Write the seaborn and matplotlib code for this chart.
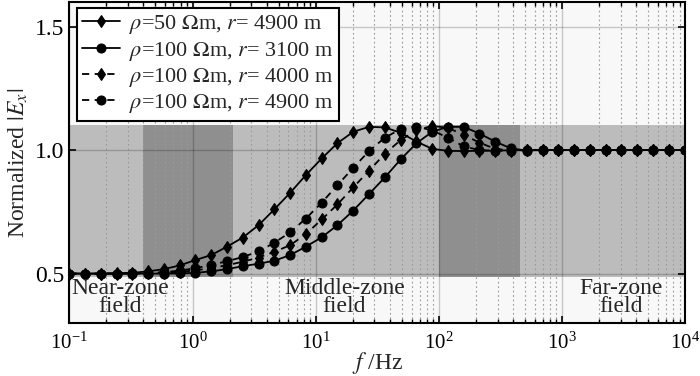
import numpy as np
import pandas as pd
import matplotlib
matplotlib.use("Agg")
import matplotlib.pyplot as plt
import seaborn as sns
from matplotlib.ticker import LogLocator, FixedLocator

# ---------------------------------------------
# Datos (40 frecuencias, 0.1 Hz – 10 kHz)
# ---------------------------------------------
freq = [0.1, 0.1343, 0.1803, 0.2422, 0.3252, 0.4367, 0.5864, 0.7875, 1.0575,
        1.4201, 1.9070, 2.5609, 3.4390, 4.6181, 6.2017, 8.3281, 11.184, 15.018,
        20.168, 27.083, 36.370, 48.840, 65.587, 88.076, 118.27, 158.83, 213.29,
        286.42, 384.62, 516.50, 693.60, 931.42, 1250.8, 1679.6, 2255.5, 3028.9,
        4067.5, 5462.2, 7335.1, 10000.0]

rho50_r4900 = [0.500, 0.500, 0.500, 0.501, 0.503, 0.509, 0.518, 0.533, 0.555,
               0.575, 0.609, 0.646, 0.696, 0.760, 0.827, 0.899, 0.966, 1.028,
               1.074, 1.094, 1.092, 1.070, 1.035, 1.005, 0.997, 0.996, 0.997,
               0.998, 0.999, 1.000, 1.000, 1.000, 1.000, 1.000, 1.000, 1.000,
               1.000, 1.000, 1.000, 1.000]

rho100_r3100 = [0.500, 0.500, 0.500, 0.500, 0.500, 0.500, 0.500, 0.501, 0.503,
                0.509, 0.518, 0.530, 0.540, 0.552, 0.575, 0.609, 0.647, 0.696,
                0.755, 0.822, 0.889, 0.962, 1.027, 1.074, 1.094, 1.094, 1.067,
                1.034, 1.007, 0.998, 1.000, 1.000, 1.000, 1.000, 1.000, 1.000,
                1.000, 1.000, 1.000, 1.000]

rho100_r4000 = [0.500, 0.500, 0.500, 0.500, 0.500, 0.501, 0.503, 0.507, 0.513,
                0.522, 0.534, 0.548, 0.565, 0.588, 0.615, 0.660, 0.719, 0.780,
                0.849, 0.916, 0.985, 1.040, 1.080, 1.098, 1.090, 1.062, 1.030,
                1.005, 0.998, 1.000, 1.000, 1.000, 1.000, 1.000, 1.000, 1.000,
                1.000, 1.000, 1.000, 1.000]

rho100_r4900 = [0.500, 0.500, 0.500, 0.500, 0.501, 0.503, 0.506, 0.512, 0.522,
                0.535, 0.550, 0.567, 0.590, 0.625, 0.667, 0.723, 0.787, 0.858,
                0.928, 0.996, 1.050, 1.085, 1.095, 1.080, 1.050, 1.015, 1.000,
                0.997, 0.998, 1.000, 1.000, 1.000, 1.000, 1.000, 1.000, 1.000,
                1.000, 1.000, 1.000, 1.000]

# Zonas (Hz)
zonas = {
    'near':   (0.1, 2.14),
    'middle': (0.40, 457.0),
    'far':    (100.0, 10000.0),
}
banda_y = (0.485, 1.10)

# ---------------------------------------------
# Estilo
# ---------------------------------------------
sns.set_style("ticks")
plt.rcParams['font.family'] = ['Liberation Serif', 'DejaVu Serif']
plt.rcParams['mathtext.fontset'] = 'stix'

fig = plt.figure(figsize=(7.0, 3.76), dpi=100)
ax = fig.add_axes([0.099, 0.141, 0.880, 0.854])
ax.set_facecolor('#f8f8f8')

# bandas sombreadas (superpuestas -> más oscuras)
for f0, f1 in zonas.values():
    ax.fill_between([f0, f1], banda_y[0], banda_y[1], color='black',
                    alpha=0.24, lw=0, zorder=1)

series = [
    (rho50_r4900,  r'$\rho$=50 $\Omega$m, $r$= 4900 m',  'd', '-'),
    (rho100_r3100, r'$\rho$=100 $\Omega$m, $r$= 3100 m', 'o', '-'),
    (rho100_r4000, r'$\rho$=100 $\Omega$m, $r$= 4000 m', 'd', (0, (4, 3))),
    (rho100_r4900, r'$\rho$=100 $\Omega$m, $r$= 4900 m', 'o', (0, (4, 3))),
]
for vals, lab, mk, ls in series:
    sns.lineplot(x=freq, y=vals, ax=ax, color='black', lw=1.3, linestyle=ls,
                 marker=mk, markersize=6.5, markeredgecolor='black',
                 label=lab, zorder=3)

ax.set_xscale('log')
ax.set_xlim(0.1, 1e4)
ax.set_ylim(0.3, 1.6)
ax.yaxis.set_major_locator(FixedLocator([0.5, 1.0, 1.5]))
ax.xaxis.set_minor_locator(LogLocator(base=10, subs=np.arange(2, 10)))

ax.set_axisbelow('line')
ax.grid(True, which='major', color='black', alpha=0.2, lw=1.0, ls='-')
ax.grid(True, which='minor', axis='x', color='#9a9a9a', lw=0.8, ls=(0, (1.5, 2.5)))

ax.tick_params(which='both', direction='in', top=True, right=True,
               colors='black', labelsize=17)
ax.tick_params(axis='x', labelsize=15, pad=7)
ax.tick_params(which='major', length=5, width=1.2)
ax.tick_params(which='minor', length=3, width=1.0)
for s in ax.spines.values():
    s.set_linewidth(1.5)
    s.set_color('black')

ax.set_xlabel(r'$f$ /Hz', fontsize=17, labelpad=-3)
ax.set_ylabel(r'Normalized $|E_x|$', fontsize=17, labelpad=4)

# textos de zonas
ax.text(0.258, 0.403, 'Near-zone\nfield', ha='center', va='center',
        fontsize=17, linespacing=0.8)
ax.text(17.1, 0.403, 'Middle-zone\nfield', ha='center', va='center',
        fontsize=17, linespacing=0.8)
ax.text(3000, 0.403, 'Far-zone\nfield', ha='center', va='center',
        fontsize=17, linespacing=0.8)

leg = ax.legend(loc='upper left', bbox_to_anchor=(0.012, 0.982), fontsize=16,
                frameon=True, fancybox=False, framealpha=1, edgecolor='black',
                handlelength=1.7, handletextpad=0.4, labelspacing=0.15,
                borderpad=0.25, borderaxespad=0)
leg.get_frame().set_linewidth(1.5)

fig.savefig('out.png', dpi=100)
